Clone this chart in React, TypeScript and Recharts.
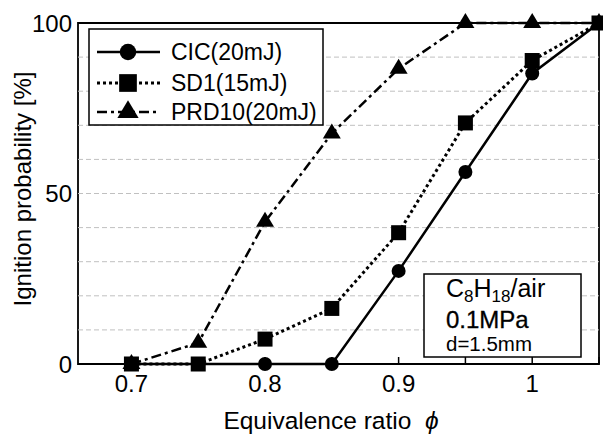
import React from 'react';
import { LineChart, Line, XAxis, YAxis, ReferenceLine, ReferenceArea } from 'recharts';

document.body.style.margin = '0';

// equivalence ratio and ignition probability [%]
const phi = [0.7, 0.75, 0.8, 0.85, 0.9, 0.95, 1.0, 1.05];
const cic = [0, 0, 0, 0, 27.3, 56.3, 85.2, 100];
const sd1 = [0, 0, 7.3, 16.3, 38.5, 70.7, 89, 100];
const prd10 = [0, 6.2, 41.7, 67.6, 86.6, 100, 100, 100];

const xTicks = [0.7, 0.75, 0.8, 0.85, 0.9, 0.95, 1.0, 1.05];
const xLabels = [0.7, 0.8, 0.9, 1.0];
const yTicks = [0, 50, 100];
const gridValues = [10, 20, 30, 40, 50, 60, 70, 80, 90];

const data = phi.map((p, i) => ({ phi: p, cic: cic[i], sd1: sd1[i], prd10: prd10[i] }));

const FONT = '"Liberation Sans", Arial, sans-serif';

// markers: `size` scales them (legend draws them a bit larger)
const Circle = (props: any) => {
  const { cx, cy, size = 1 } = props;
  if (cx == null || cy == null) return null;
  return <circle cx={cx} cy={cy} r={7 * size} fill="#000" />;
};

const Square = (props: any) => {
  const { cx, cy, size = 1 } = props;
  if (cx == null || cy == null) return null;
  const h = 7.5 * size;
  return <rect x={cx - h} y={cy - h} width={h * 2} height={h * 2} fill="#000" />;
};

const Triangle = (props: any) => {
  const { cx, cy, size = 1 } = props;
  if (cx == null || cy == null) return null;
  const pts = `${cx},${cy - 10 * size} ${cx - 9 * size},${cy + 5 * size} ${cx + 9 * size},${cy + 5 * size}`;
  return <polygon points={pts} fill="#000" />;
};

const series = [
  { key: 'cic', name: 'CIC(20mJ)', dash: undefined, width: 2.5, Marker: Circle },
  { key: 'sd1', name: 'SD1(15mJ)', dash: '3 3', width: 3, Marker: Square },
  { key: 'prd10', name: 'PRD10(20mJ)', dash: '10 4 3 4', width: 2.5, Marker: Triangle },
];

const XTick = (props: any) => {
  const { x, y, payload } = props;
  const v = payload.value;
  const show = xLabels.some((l) => Math.abs(l - v) < 1e-9);
  return (
    <g>
      <line x1={x} x2={x} y1={y} y2={y - 7} stroke="#000" strokeWidth={1.5} />
      {show && (
        <text x={x} y={y + 28} textAnchor="middle" fontSize={24} fill="#000" fontFamily={FONT}>
          {String(v)}
        </text>
      )}
    </g>
  );
};

export default function App() {
  return (
    <div style={{ position: 'relative', width: 603, height: 437, background: '#fff', fontFamily: FONT }}>
      <LineChart width={603} height={437} data={data} margin={{ top: 23, right: 4, bottom: 0, left: 0 }}>
        <XAxis
          dataKey="phi"
          type="number"
          domain={[0.66, 1.05]}
          ticks={xTicks}
          interval={0}
          height={73}
          tickSize={0}
          tickMargin={0}
          axisLine={false}
          tick={<XTick />}
        />
        <YAxis
          type="number"
          domain={[0, 100]}
          ticks={yTicks}
          width={78}
          tickSize={0}
          tickMargin={6}
          axisLine={false}
          tick={{ fill: '#000', fontSize: 24, fontFamily: FONT }}
        />
        {gridValues.map((v) => (
          <ReferenceLine key={v} y={v} stroke="#c0c0c0" strokeWidth={1} strokeDasharray="5 3" />
        ))}
        <ReferenceArea x1={0.66} x2={1.05} y1={0} y2={100} fill="none" stroke="#000" strokeWidth={1.8} fillOpacity={0} />
        {series.map((s) => (
          <Line
            key={s.key}
            type="linear"
            dataKey={s.key}
            name={s.name}
            stroke="#000"
            strokeWidth={s.width}
            strokeDasharray={s.dash}
            dot={(p: any) => <s.Marker key={p.index} cx={p.cx} cy={p.cy} />}
            activeDot={false}
            isAnimationActive={false}
          />
        ))}
      </LineChart>

      <svg
        width={603}
        height={437}
        style={{ position: 'absolute', left: 0, top: 0, pointerEvents: 'none' }}
        fontFamily={FONT}
      >
        {/* axis titles */}
        <text
          x={0}
          y={0}
          transform="translate(31,189) rotate(-90)"
          textAnchor="middle"
          fontSize={24}
          fill="#000"
        >
          Ignition probability [%]
        </text>
        <text x={331} y={429} textAnchor="middle" fontSize={24.5} fill="#000" xmlSpace="preserve">
          Equivalence ratio{'  '}
          <tspan fontStyle="italic">ϕ</tspan>
        </text>

        {/* legend */}
        <rect x={89} y={29} width={234} height={96} fill="#fff" stroke="#000" strokeWidth={1.5} />
        {series.map((s, i) => {
          const cy = [52, 83, 112][i];
          const by = [60, 91, 119.5][i];
          return (
            <g key={s.key}>
              <line x1={97} x2={160} y1={cy} y2={cy} stroke="#000" strokeWidth={s.width} strokeDasharray={s.dash} />
              <s.Marker cx={128} cy={cy} size={1.18} />
              <text x={171} y={by} fontSize={23} fill="#000">
                {s.name}
              </text>
            </g>
          );
        })}

        {/* condition box */}
        <rect x={424} y={274} width={157} height={83} fill="#fff" stroke="#000" strokeWidth={1.5} />
        <text x={446} y={297} fontSize={25} fill="#000">
          C<tspan fontSize={17} dy={5}>8</tspan>
          <tspan dy={-5}>H</tspan>
          <tspan fontSize={17} dy={5}>18</tspan>
          <tspan dy={-5}>/air</tspan>
        </text>
        <text x={446} y={328} fontSize={24} fill="#000" stroke="#000" strokeWidth={0.3}>
          0.1MPa
        </text>
        <text x={446} y={351} fontSize={20.5} fill="#000">
          d=1.5mm
        </text>
      </svg>
    </div>
  );
}
